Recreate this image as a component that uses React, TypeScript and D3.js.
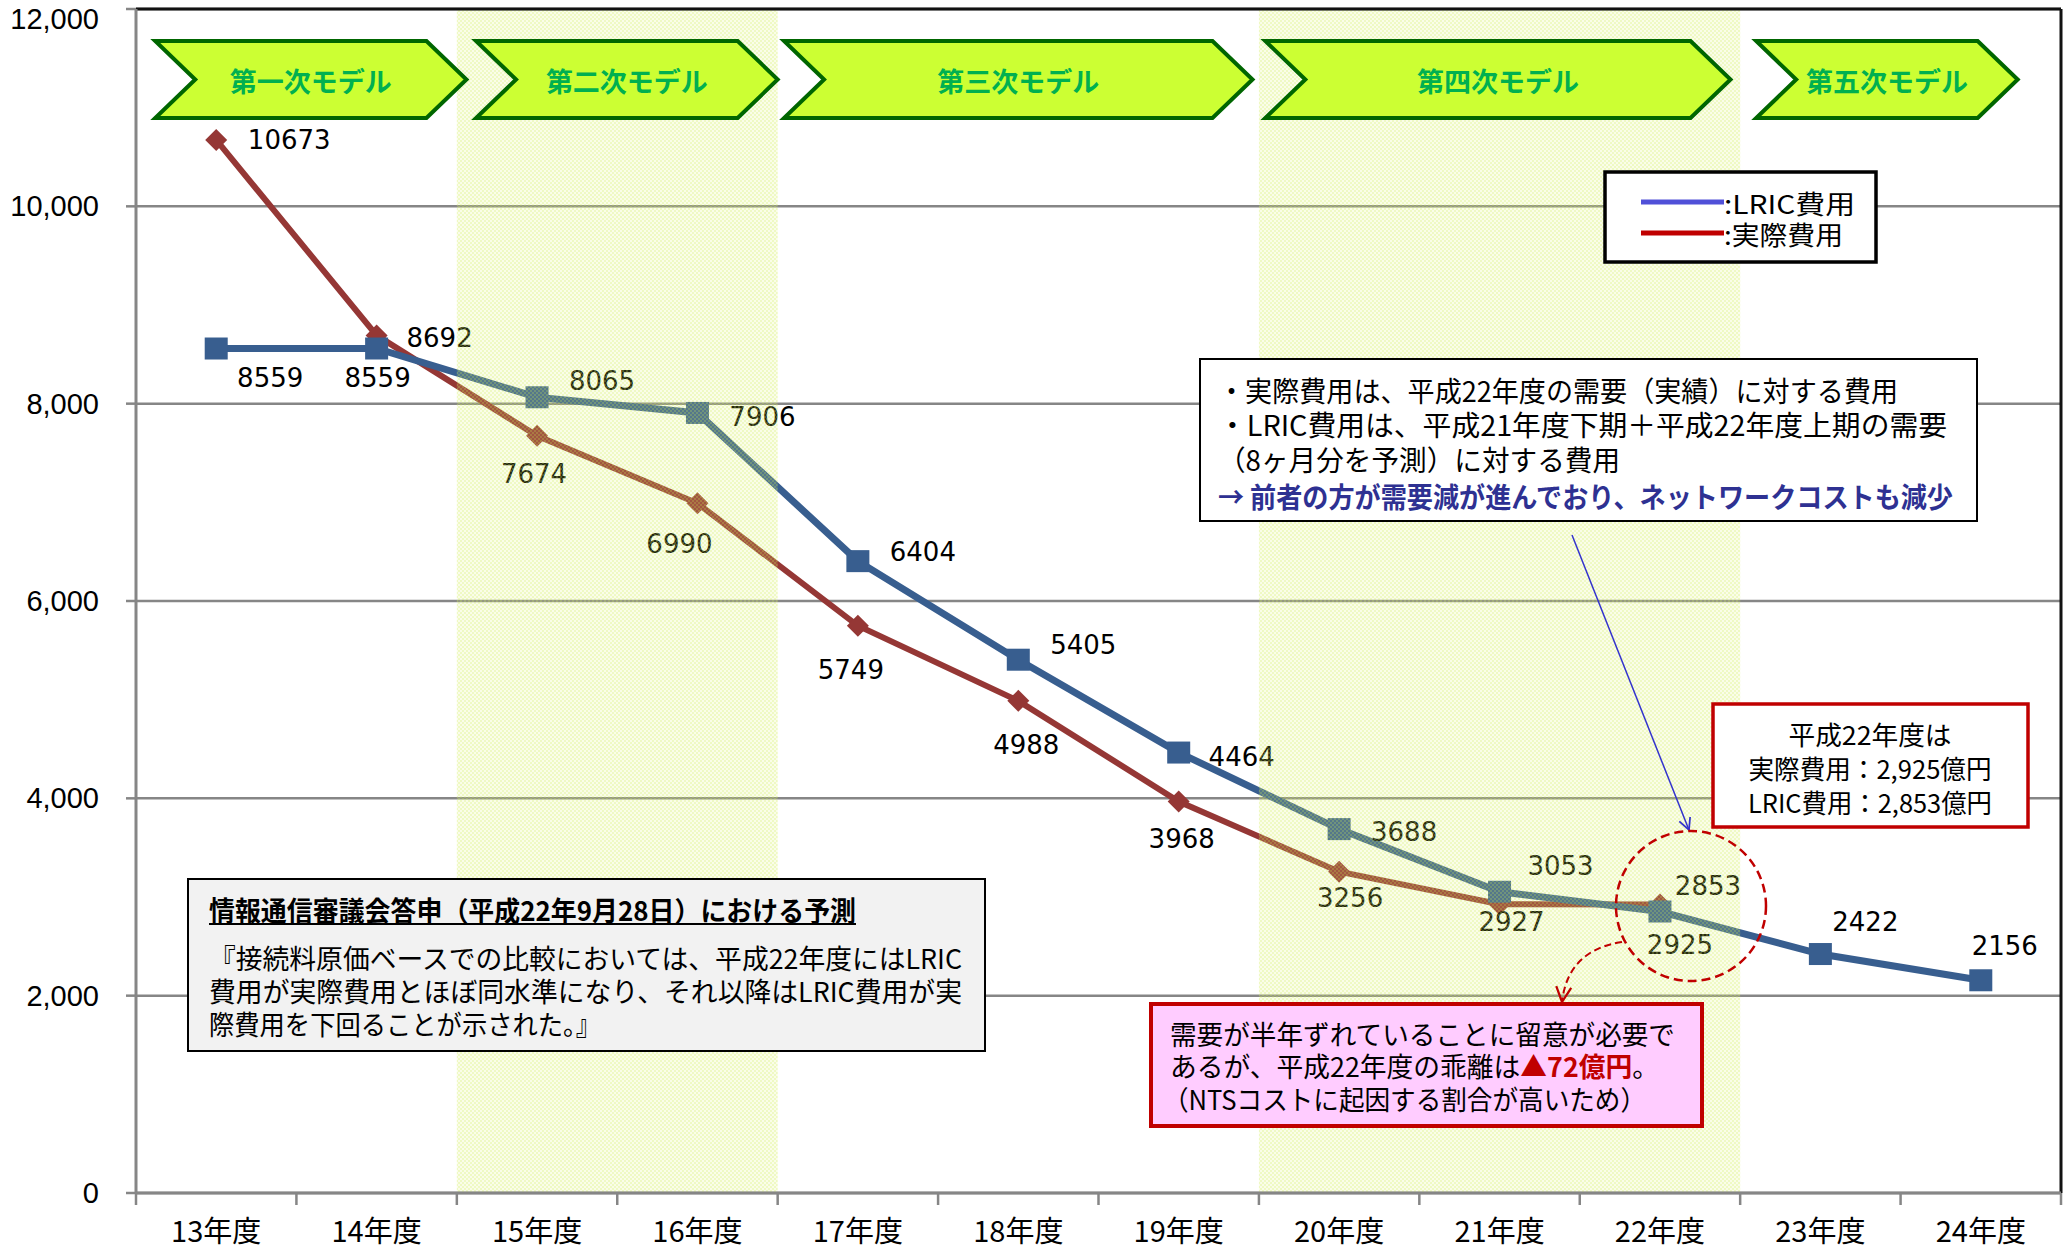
import React, { useEffect } from 'react';
import * as d3 from 'd3';

const categories = ['13年度', '14年度', '15年度', '16年度', '17年度', '18年度', '19年度', '20年度', '21年度', '22年度', '23年度', '24年度'];
const lricValues = [8559, 8559, 8065, 7906, 6404, 5405, 4464, 3688, 3053, 2853, 2422, 2156];
const actualValues = [10673, 8692, 7674, 6990, 5749, 4988, 3968, 3256, 2927, 2925];
const yTicks = [0, 2000, 4000, 6000, 8000, 10000, 12000];
const modelNames = ['第一次モデル', '第二次モデル', '第三次モデル', '第四次モデル', '第五次モデル'];
// spans in category units
const modelSpans: [number, number][] = [[0.12, 2.06], [2.12, 4.0], [4.04, 6.96], [7.04, 9.94], [10.1, 11.73]];
const shadedSpans: [number, number][] = [[2, 4], [7, 10]];
// label offsets (dx, dy) in px from point
const lricLabelOffsets: [number, number][] = [[54, 29], [1, 29], [65, -16], [65, 4], [65, -9], [65, -15], [63, 4], [65, 3], [61, -26], [48, -26], [45, -32], [24, -34]];
const actualLabelOffsets: [number, number][] = [[73, 0], [63, 3], [-3, 38], [-18, 41], [-7, 44], [8, 44], [3, 38], [11, 26], [12, 18], [20, 41]];

const legendLabels = [':LRIC費用', ':実際費用'];
const noteLines = [
  '・実際費用は、平成22年度の需要（実績）に対する費用',
  '・LRIC費用は、平成21年度下期＋平成22年度上期の需要',
  '（8ヶ月分を予測）に対する費用',
];
const noteConclusion = '→ 前者の方が需要減が進んでおり、ネットワークコストも減少';
const redBoxLines = ['平成22年度は', '実際費用：2,925億円', 'LRIC費用：2,853億円'];
const grayTitle = '情報通信審議会答申（平成22年9月28日）における予測';
const grayLines = [
  '『接続料原価ベースでの比較においては、平成22年度にはLRIC',
  '費用が実際費用とほぼ同水準になり、それ以降はLRIC費用が実',
  '際費用を下回ることが示された。』',
];
const pinkLine1 = '需要が半年ずれていることに留意が必要で';
const pinkLine2a = 'あるが、平成22年度の乖離は';
const pinkLine2b = '▲72億円';
const pinkLine2c = '。';
const pinkLine3 = '（NTSコストに起因する割合が高いため）';

const W = 2072;
const H = 1248;
const plotL = 136;
const plotR = 2061;
const plotT = 9;
const plotB = 1193;

const CJK = '"Noto Sans CJK JP", "Noto Sans", sans-serif';
const NUM = '"DejaVu Sans", Verdana, sans-serif';

const BLUE = '#385e8f';
const RED = '#953735';

export default function App() {
  useEffect(() => {
    document.body.style.margin = '0';
  }, []);

  const x = d3.scaleBand<string>().domain(categories).range([plotL, plotR]).paddingInner(0).paddingOuter(0);
  const bw = x.bandwidth();
  const cx = (i: number) => (x(categories[i]) as number) + bw / 2;
  const catPos = d3.scaleLinear().domain([0, categories.length]).range([plotL, plotR]);
  const y = d3.scaleLinear().domain([0, 12000]).range([plotB, plotT]);

  const line = d3.line<number>().x((_, i) => cx(i)).y((d) => y(d));

  const chevTop = 41;
  const chevBot = 118;
  const chevMid = (chevTop + chevBot) / 2;
  const depth = 40;

  return (
    <svg width={W} height={H} style={{ position: 'absolute', left: 0, top: 0, background: '#fff' }} xmlns="http://www.w3.org/2000/svg">
      <defs>
        <pattern id="dots" patternUnits="userSpaceOnUse" width="4" height="4">
          <rect x="0" y="0" width="2" height="2" fill="rgba(205,238,80,0.24)" />
          <rect x="2" y="2" width="2" height="2" fill="rgba(205,238,80,0.24)" />
        </pattern>
        <marker id="blueArrow" viewBox="0 0 12 12" refX="11" refY="6" markerWidth="14" markerHeight="14" markerUnits="userSpaceOnUse" orient="auto">
          <path d="M1,1 L11,6 L1,11" fill="none" stroke="#3333cc" strokeWidth="1.5" />
        </marker>
        <marker id="redArrow" viewBox="0 0 12 12" refX="11" refY="6" markerWidth="18" markerHeight="18" markerUnits="userSpaceOnUse" orient="auto">
          <path d="M1,1 L11,6 L1,11" fill="none" stroke="#c00000" strokeWidth="1.5" />
        </marker>
      </defs>

      <rect x={0} y={0} width={W} height={H} fill="#fff" />

      {/* gridlines */}
      {yTicks.map((t) => (
        <line key={'g' + t} x1={plotL} x2={plotR} y1={y(t)} y2={y(t)} stroke="#868686" strokeWidth={2.5} />
      ))}

      {/* actual cost line */}
      <path d={line(actualValues) || ''} fill="none" stroke={RED} strokeWidth={6} />
      {actualValues.map((v, i) => (
        <path key={'rm' + i} d="M0,-11 L11,0 L0,11 L-11,0 Z" transform={`translate(${cx(i)},${y(v)})`} fill={RED} />
      ))}
      {/* LRIC line */}
      <path d={line(lricValues) || ''} fill="none" stroke={BLUE} strokeWidth={7} />
      {lricValues.map((v, i) => (
        <rect key={'bm' + i} x={cx(i) - 11.5} y={y(v) - 11} width={23} height={22} fill={BLUE} />
      ))}

      {/* data labels */}
      {actualValues.map((v, i) => (
        <text key={'rl' + i} x={cx(i) + actualLabelOffsets[i][0]} y={y(v) + actualLabelOffsets[i][1]} textAnchor="middle" dominantBaseline="central" fontFamily={NUM} fontSize={26} fill="#000">
          {v}
        </text>
      ))}
      {lricValues.map((v, i) => (
        <text key={'bl' + i} x={cx(i) + lricLabelOffsets[i][0]} y={y(v) + lricLabelOffsets[i][1]} textAnchor="middle" dominantBaseline="central" fontFamily={NUM} fontSize={26} fill="#000">
          {v}
        </text>
      ))}

      {/* shaded bands overlay */}
      {shadedSpans.map(([a, b], i) => (
        <g key={'sb' + i}>
          <rect x={catPos(a)} y={plotT} width={catPos(b) - catPos(a)} height={plotB - plotT} fill="rgba(228,246,120,0.17)" />
          <rect x={catPos(a)} y={plotT} width={catPos(b) - catPos(a)} height={plotB - plotT} fill="url(#dots)" />
        </g>
      ))}

      {/* plot border top/right */}
      <line x1={plotL} x2={plotR} y1={plotT} y2={plotT} stroke="#111" strokeWidth={3} />
      <line x1={plotR} x2={plotR} y1={plotT} y2={plotB} stroke="#111" strokeWidth={3} />

      {/* axes */}
      <line x1={plotL} x2={plotL} y1={plotT} y2={plotB} stroke="#868686" strokeWidth={3} />
      <line x1={plotL} x2={plotR} y1={plotB} y2={plotB} stroke="#868686" strokeWidth={3} />
      {yTicks.map((t) => (
        <g key={'yt' + t}>
          <line x1={plotL - 10} x2={plotL} y1={y(t)} y2={y(t)} stroke="#868686" strokeWidth={2.5} />
          <text x={99} y={Math.max(y(t), 19)} textAnchor="end" dominantBaseline="central" fontFamily='"Liberation Sans", Arial, sans-serif' fontSize={29} fill="#000">
            {d3.format(',')(t)}
          </text>
        </g>
      ))}
      {d3.range(categories.length + 1).map((k) => (
        <line key={'xt' + k} x1={catPos(k)} x2={catPos(k)} y1={plotB} y2={plotB + 12} stroke="#868686" strokeWidth={2.5} />
      ))}
      {categories.map((c, i) => (
        <text key={'xl' + c} x={cx(i)} y={1229} textAnchor="middle" dominantBaseline="central" fontFamily={CJK} fontSize={29} fill="#000">
          {c}
        </text>
      ))}

      {/* chevrons */}
      {modelNames.map((name, i) => {
        const L = catPos(modelSpans[i][0]);
        const T = catPos(modelSpans[i][1]);
        const d = `M${L},${chevTop} L${T - depth},${chevTop} L${T},${chevMid} L${T - depth},${chevBot} L${L},${chevBot} L${L + depth},${chevMid} Z`;
        return (
          <g key={'ch' + i}>
            <path d={d} fill="#ccff33" stroke="#006600" strokeWidth={4} strokeLinejoin="miter" />
            <text x={(L + T) / 2} y={chevMid + 1} textAnchor="middle" dominantBaseline="central" fontFamily={CJK} fontWeight="bold" fontSize={27} fill="#00b050">
              {name}
            </text>
          </g>
        );
      })}

      {/* legend */}
      <rect x={1605} y={172} width={271} height={90} fill="#fff" stroke="#000" strokeWidth={3.5} />
      <line x1={1641} x2={1724} y1={202} y2={202} stroke="#5050d8" strokeWidth={5} />
      <line x1={1641} x2={1724} y1={233} y2={233} stroke="#c00000" strokeWidth={5} />
      {legendLabels.map((l, i) => (
        <text key={'lg' + i} x={1724} y={202 + i * 31} dominantBaseline="central" fontFamily={CJK} fontSize={26} fill="#000" textLength={i === 0 ? 131 : 119} lengthAdjust="spacingAndGlyphs">
          {l}
        </text>
      ))}

      {/* note box */}
      <rect x={1200} y={359} width={777} height={162} fill="#fff" stroke="#000" strokeWidth={2} />
      {noteLines.map((l, i) => (
        <text key={'nl' + i} x={1218} y={[390, 424, 459][i]} dominantBaseline="central" fontFamily={CJK} fontSize={28} fill="#000" textLength={[680, 729, 402][i]} lengthAdjust="spacingAndGlyphs">
          {l}
        </text>
      ))}
      <text x={1218} y={496} dominantBaseline="central" fontFamily={CJK} fontWeight="bold" fontSize={28} fill="#2e3192" textLength={735} lengthAdjust="spacingAndGlyphs">
        {noteConclusion}
      </text>
      <line x1={1572} y1={535} x2={1689} y2={830} stroke="#3333cc" strokeWidth={1.5} markerEnd="url(#blueArrow)" />

      {/* red summary box */}
      <rect x={1713} y={704} width={315} height={123} fill="#fff" stroke="#c00000" strokeWidth={3.5} />
      {redBoxLines.map((l, i) => (
        <text key={'rb' + i} x={1870} y={[733, 767, 801][i]} textAnchor="middle" dominantBaseline="central" fontFamily={CJK} fontSize={26} fill="#000" textLength={[163, 243, 244][i]} lengthAdjust="spacingAndGlyphs">
          {l}
        </text>
      ))}

      {/* dashed circle */}
      <circle cx={1691} cy={906} r={75} fill="none" stroke="#c00000" strokeWidth={2.5} strokeDasharray="9,5" />
      <path d="M1622,942 Q1568,950 1562,1002" fill="none" stroke="#c00000" strokeWidth={2} strokeDasharray="7,4" markerEnd="url(#redArrow)" />

      {/* pink box */}
      <rect x={1151} y={1004} width={551} height={122} fill="#ffccff" stroke="#c00000" strokeWidth={4} />
      <text x={1170} y={1033} dominantBaseline="central" fontFamily={CJK} fontSize={27} fill="#000" textLength={505} lengthAdjust="spacingAndGlyphs">
        {pinkLine1}
      </text>
      <text x={1170} y={1065} dominantBaseline="central" fontFamily={CJK} fontSize={27} fill="#000" textLength={489} lengthAdjust="spacingAndGlyphs">
        {pinkLine2a}
        <tspan fill="#c00000" fontWeight="bold">{pinkLine2b}</tspan>
        {pinkLine2c}
      </text>
      <text x={1163} y={1098} dominantBaseline="central" fontFamily={CJK} fontSize={27} fill="#000" textLength={483} lengthAdjust="spacingAndGlyphs">
        {pinkLine3}
      </text>

      {/* gray box */}
      <rect x={188} y={879} width={797} height={172} fill="#f2f2f2" stroke="#000" strokeWidth={2} />
      <text x={209} y={909} dominantBaseline="central" fontFamily={CJK} fontWeight="bold" fontSize={27} fill="#000" textLength={647} lengthAdjust="spacingAndGlyphs">
        {grayTitle}
      </text>
      <line x1={209} x2={856} y1={924} y2={924} stroke="#000" strokeWidth={2} />
      {grayLines.map((l, i) => (
        <text key={'gl' + i} x={209} y={[957, 990, 1023][i]} dominantBaseline="central" fontFamily={CJK} fontSize={27} fill="#000" textLength={[753, 753, 392][i]} lengthAdjust="spacingAndGlyphs">
          {l}
        </text>
      ))}
    </svg>
  );
}
